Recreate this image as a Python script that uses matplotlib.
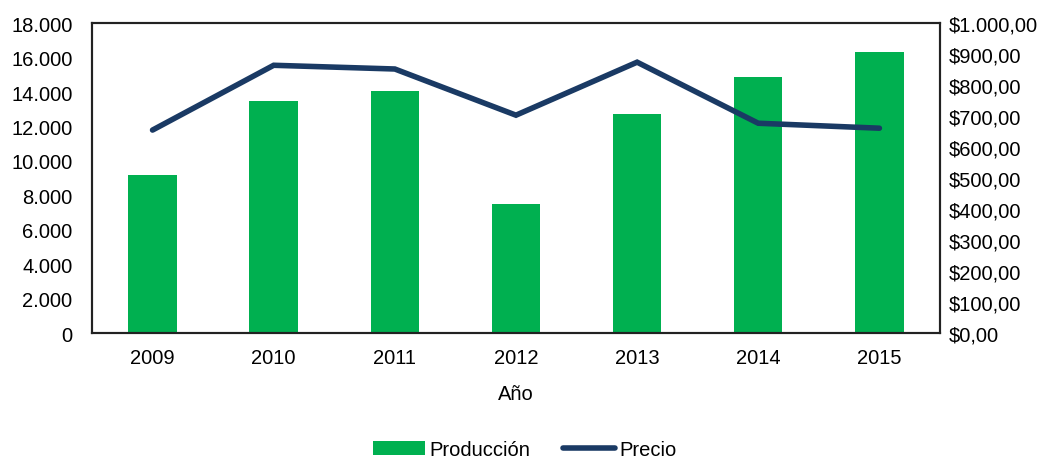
import matplotlib.pyplot as plt
import numpy as np
from matplotlib.ticker import FuncFormatter, MultipleLocator

plt.rcParams['font.family'] = ['Liberation Sans', 'DejaVu Sans']

# Datos
anios = ['2009', '2010', '2011', '2012', '2013', '2014', '2015']
produccion = [9200, 13500, 14050, 7500, 12700, 14850, 16350]
precio = [655, 864, 852, 703, 874, 677, 661]

verde = '#00B050'
azul = '#1A3A64'


def miles(v, pos):
    return f"{int(round(v)):,}".replace(',', '.')


def pesos(v, pos):
    s = f"{v:,.2f}"
    s = s.replace(',', 'X').replace('.', ',').replace('X', '.')
    return '$' + s


fig = plt.figure(figsize=(10.45, 4.64), dpi=100)
ax = fig.add_axes([0.088, 0.280, 0.8115, 0.668])
ax2 = ax.twinx()

x = np.arange(len(anios))
barras = ax.bar(x, produccion, width=0.4, color=verde, label='Producción', zorder=2)
linea, = ax2.plot(x, precio, color=azul, linewidth=4, solid_capstyle='round',
                  solid_joinstyle='miter', label='Precio', zorder=3)

ax.set_xlim(-0.5, len(anios) - 0.5)
ax.set_ylim(0, 18000)
ax.yaxis.set_major_locator(MultipleLocator(2000))
ax.yaxis.set_major_formatter(FuncFormatter(miles))
ax2.set_ylim(0, 1000)
ax2.yaxis.set_major_locator(MultipleLocator(100))
ax2.yaxis.set_major_formatter(FuncFormatter(pesos))

ax.set_xticks(x)
ax.set_xticklabels(anios)
ax.set_xlabel('Año', fontsize=14.5, labelpad=12)

for a in (ax, ax2):
    a.tick_params(length=0, labelsize=14.5)
    for s in a.spines.values():
        s.set_color('#222222')
        s.set_linewidth(1.5)
ax.tick_params(axis='y', pad=14)
ax.tick_params(axis='x', pad=11)
ax2.tick_params(axis='y', pad=6)

fig.legend([barras, linea], ['Producción', 'Precio'], loc='lower center',
           bbox_to_anchor=(0.502, -0.03), ncol=2, frameon=False, fontsize=14.5,
           handlelength=2.6, handletextpad=0.2, columnspacing=1.6)

fig.savefig('out.png', dpi=100)
